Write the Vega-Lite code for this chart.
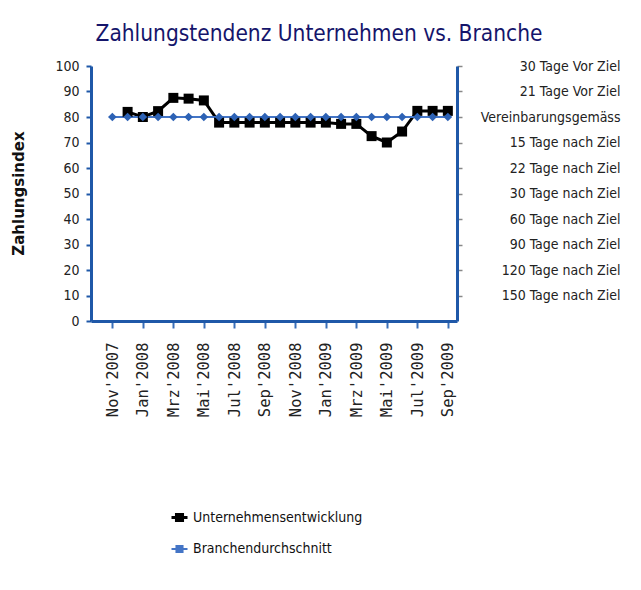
{
  "$schema": "https://vega.github.io/schema/vega-lite/v6.json",
  "autosize": {"type": "none"},
  "padding": {"left": 91, "top": 66, "right": 184, "bottom": 269},
  "width": 366,
  "height": 255,
  "background": "white",
  "title": {
    "text": "Zahlungstendenz Unternehmen vs. Branche",
    "font": "DejaVu Sans Condensed",
    "fontSize": 22.5,
    "fontWeight": "normal",
    "color": "#15156b",
    "anchor": "middle",
    "dx": 45,
    "offset": 14
  },
  "config": {
    "view": {"stroke": null},
    "font": "DejaVu Sans Condensed"
  },
  "data": {
    "values": [
      {"month": "Dez'2007", "series": "Unternehmensentwicklung", "value": 82},
      {"month": "Jan'2008", "series": "Unternehmensentwicklung", "value": 80},
      {"month": "Feb'2008", "series": "Unternehmensentwicklung", "value": 82.3},
      {"month": "Mrz'2008", "series": "Unternehmensentwicklung", "value": 87.5},
      {"month": "Apr'2008", "series": "Unternehmensentwicklung", "value": 87.2},
      {"month": "Mai'2008", "series": "Unternehmensentwicklung", "value": 86.5},
      {"month": "Jun'2008", "series": "Unternehmensentwicklung", "value": 77.8},
      {"month": "Jul'2008", "series": "Unternehmensentwicklung", "value": 77.8},
      {"month": "Aug'2008", "series": "Unternehmensentwicklung", "value": 77.8},
      {"month": "Sep'2008", "series": "Unternehmensentwicklung", "value": 77.8},
      {"month": "Okt'2008", "series": "Unternehmensentwicklung", "value": 77.8},
      {"month": "Nov'2008", "series": "Unternehmensentwicklung", "value": 77.8},
      {"month": "Dez'2008", "series": "Unternehmensentwicklung", "value": 77.8},
      {"month": "Jan'2009", "series": "Unternehmensentwicklung", "value": 77.8},
      {"month": "Feb'2009", "series": "Unternehmensentwicklung", "value": 77.3},
      {"month": "Mrz'2009", "series": "Unternehmensentwicklung", "value": 77.3},
      {"month": "Apr'2009", "series": "Unternehmensentwicklung", "value": 72.5},
      {"month": "Mai'2009", "series": "Unternehmensentwicklung", "value": 70},
      {"month": "Jun'2009", "series": "Unternehmensentwicklung", "value": 74.3},
      {"month": "Jul'2009", "series": "Unternehmensentwicklung", "value": 82.4},
      {"month": "Aug'2009", "series": "Unternehmensentwicklung", "value": 82.4},
      {"month": "Sep'2009", "series": "Unternehmensentwicklung", "value": 82.4},
      {"month": "Nov'2007", "series": "Branchendurchschnitt", "value": 80},
      {"month": "Dez'2007", "series": "Branchendurchschnitt", "value": 80},
      {"month": "Jan'2008", "series": "Branchendurchschnitt", "value": 80},
      {"month": "Feb'2008", "series": "Branchendurchschnitt", "value": 80},
      {"month": "Mrz'2008", "series": "Branchendurchschnitt", "value": 80},
      {"month": "Apr'2008", "series": "Branchendurchschnitt", "value": 80},
      {"month": "Mai'2008", "series": "Branchendurchschnitt", "value": 80},
      {"month": "Jun'2008", "series": "Branchendurchschnitt", "value": 80},
      {"month": "Jul'2008", "series": "Branchendurchschnitt", "value": 80},
      {"month": "Aug'2008", "series": "Branchendurchschnitt", "value": 80},
      {"month": "Sep'2008", "series": "Branchendurchschnitt", "value": 80},
      {"month": "Okt'2008", "series": "Branchendurchschnitt", "value": 80},
      {"month": "Nov'2008", "series": "Branchendurchschnitt", "value": 80},
      {"month": "Dez'2008", "series": "Branchendurchschnitt", "value": 80},
      {"month": "Jan'2009", "series": "Branchendurchschnitt", "value": 80},
      {"month": "Feb'2009", "series": "Branchendurchschnitt", "value": 80},
      {"month": "Mrz'2009", "series": "Branchendurchschnitt", "value": 80},
      {"month": "Apr'2009", "series": "Branchendurchschnitt", "value": 80},
      {"month": "Mai'2009", "series": "Branchendurchschnitt", "value": 80},
      {"month": "Jun'2009", "series": "Branchendurchschnitt", "value": 80},
      {"month": "Jul'2009", "series": "Branchendurchschnitt", "value": 80},
      {"month": "Aug'2009", "series": "Branchendurchschnitt", "value": 80},
      {"month": "Sep'2009", "series": "Branchendurchschnitt", "value": 80}
    ]
  },
  "resolve": {"axis": {"y": "independent"}},
  "encoding": {
    "x": {
      "field": "month",
      "type": "nominal",
      "sort": ["Nov'2007", "Dez'2007", "Jan'2008", "Feb'2008", "Mrz'2008", "Apr'2008", "Mai'2008", "Jun'2008", "Jul'2008", "Aug'2008", "Sep'2008", "Okt'2008", "Nov'2008", "Dez'2008", "Jan'2009", "Feb'2009", "Mrz'2009", "Apr'2009", "Mai'2009", "Jun'2009", "Jul'2009", "Aug'2009", "Sep'2009"],
      "scale": {"type": "point", "padding": 1.04, "align": 0.7},
      "axis": {
        "title": null,
        "values": ["Nov'2007", "Jan'2008", "Mrz'2008", "Mai'2008", "Jul'2008", "Sep'2008", "Nov'2008", "Jan'2009", "Mrz'2009", "Mai'2009", "Jul'2009", "Sep'2009"],
        "labelAngle": -90,
        "labelAlign": "right",
        "labelBaseline": "middle",
        "labelFont": "DejaVu Sans Mono",
        "labelFontSize": 15.5,
        "labelColor": "#222222",
        "labelPadding": 14,
        "labelLimit": 200,
        "tickSize": 7,
        "tickColor": "#3a6fb8",
        "tickWidth": 2,
        "domainColor": "#1f58a8",
        "domainWidth": 3,
        "grid": false
      }
    },
    "y": {
      "field": "value",
      "type": "quantitative",
      "scale": {"domain": [0, 100], "nice": false}
    }
  },
  "layer": [
    {
      "mark": {"type": "line"},
      "encoding": {
        "color": {
          "field": "series",
          "type": "nominal",
          "sort": ["Unternehmensentwicklung", "Branchendurchschnitt"],
          "scale": {"domain": ["Unternehmensentwicklung", "Branchendurchschnitt"], "range": ["#000000", "#4475c6"]},
          "legend": {
            "title": null,
            "orient": "none",
            "legendX": 79,
            "legendY": 442,
            "padding": 0,
            "symbolType": "M-1,0H1M-0.38,-0.38H0.38V0.38H-0.38Z",
            "symbolSize": 256,
            "symbolStrokeWidth": 2.5,
            "labelFont": "DejaVu Sans Condensed",
            "labelFontSize": 14,
            "labelColor": "#111111",
            "labelOffset": 4,
            "labelLimit": 400,
            "rowPadding": 13,
            "encode": {"symbols": {"update": {"fill": {"scale": "color", "field": "value"}, "stroke": {"scale": "color", "field": "value"}, "opacity": {"value": 1}}}}
          }
        },
        "strokeWidth": {
          "field": "series",
          "type": "nominal",
          "scale": {"domain": ["Unternehmensentwicklung", "Branchendurchschnitt"], "range": [3, 2]},
          "legend": null
        },
        "y": {
          "field": "value",
          "type": "quantitative",
          "scale": {"domain": [0, 100], "nice": false},
          "axis": {
            "title": "Zahlungsindex",
            "titleFont": "DejaVu Sans",
            "titleFontSize": 15,
            "titleFontWeight": "bold",
            "titleColor": "#111111",
            "titleX": -73,
            "titleY": 127,
            "titleAngle": -90,
            "titleAlign": "center",
            "titleBaseline": "middle",
            "values": [0, 10, 20, 30, 40, 50, 60, 70, 80, 90, 100],
            "labelFont": "DejaVu Sans Condensed",
            "labelFontSize": 14,
            "labelColor": "#222222",
            "labelPadding": 7,
            "tickSize": 5,
            "tickColor": "#1f58a8",
            "tickWidth": 2,
            "domainColor": "#1f58a8",
            "domainWidth": 3,
            "grid": false
          }
        }
      }
    },
    {
      "transform": [{"filter": "datum.series === 'Unternehmensentwicklung'"}],
      "mark": {"type": "point", "filled": true, "opacity": 1, "shape": "square", "size": 100, "color": "#000000"},
      "encoding": {
        "y": {
          "field": "value",
          "type": "quantitative",
          "scale": {"domain": [0, 100], "nice": false},
          "axis": {
            "orient": "right",
            "title": null,
            "values": [10, 20, 30, 40, 50, 60, 70, 80, 90, 100],
            "labelExpr": "['', '150 Tage nach Ziel', '120 Tage nach Ziel', '90 Tage nach Ziel', '60 Tage nach Ziel', '30 Tage nach Ziel', '22 Tage nach Ziel', '15 Tage nach Ziel', 'Vereinbarungsgemäss', '21 Tage Vor Ziel', '30 Tage Vor Ziel'][round(datum.value / 10)]",
            "labelAlign": "right",
            "labelBaseline": "middle",
            "labelFont": "DejaVu Sans Condensed",
            "labelFontSize": 14,
            "labelColor": "#222222",
            "labelPadding": 158,
            "labelLimit": 300,
            "tickSize": 5,
            "tickColor": "#888888",
            "tickWidth": 1.5,
            "domainColor": "#1f58a8",
            "domainWidth": 3,
            "grid": false
          }
        }
      }
    },
    {
      "transform": [{"filter": "datum.series === 'Branchendurchschnitt'"}],
      "mark": {"type": "point", "filled": true, "opacity": 1, "shape": "diamond", "size": 75, "color": "#2d62b5"},
      "encoding": {
        "y": {
          "field": "value",
          "type": "quantitative",
          "scale": {"domain": [0, 100], "nice": false},
          "axis": null
        }
      }
    }
  ]
}
